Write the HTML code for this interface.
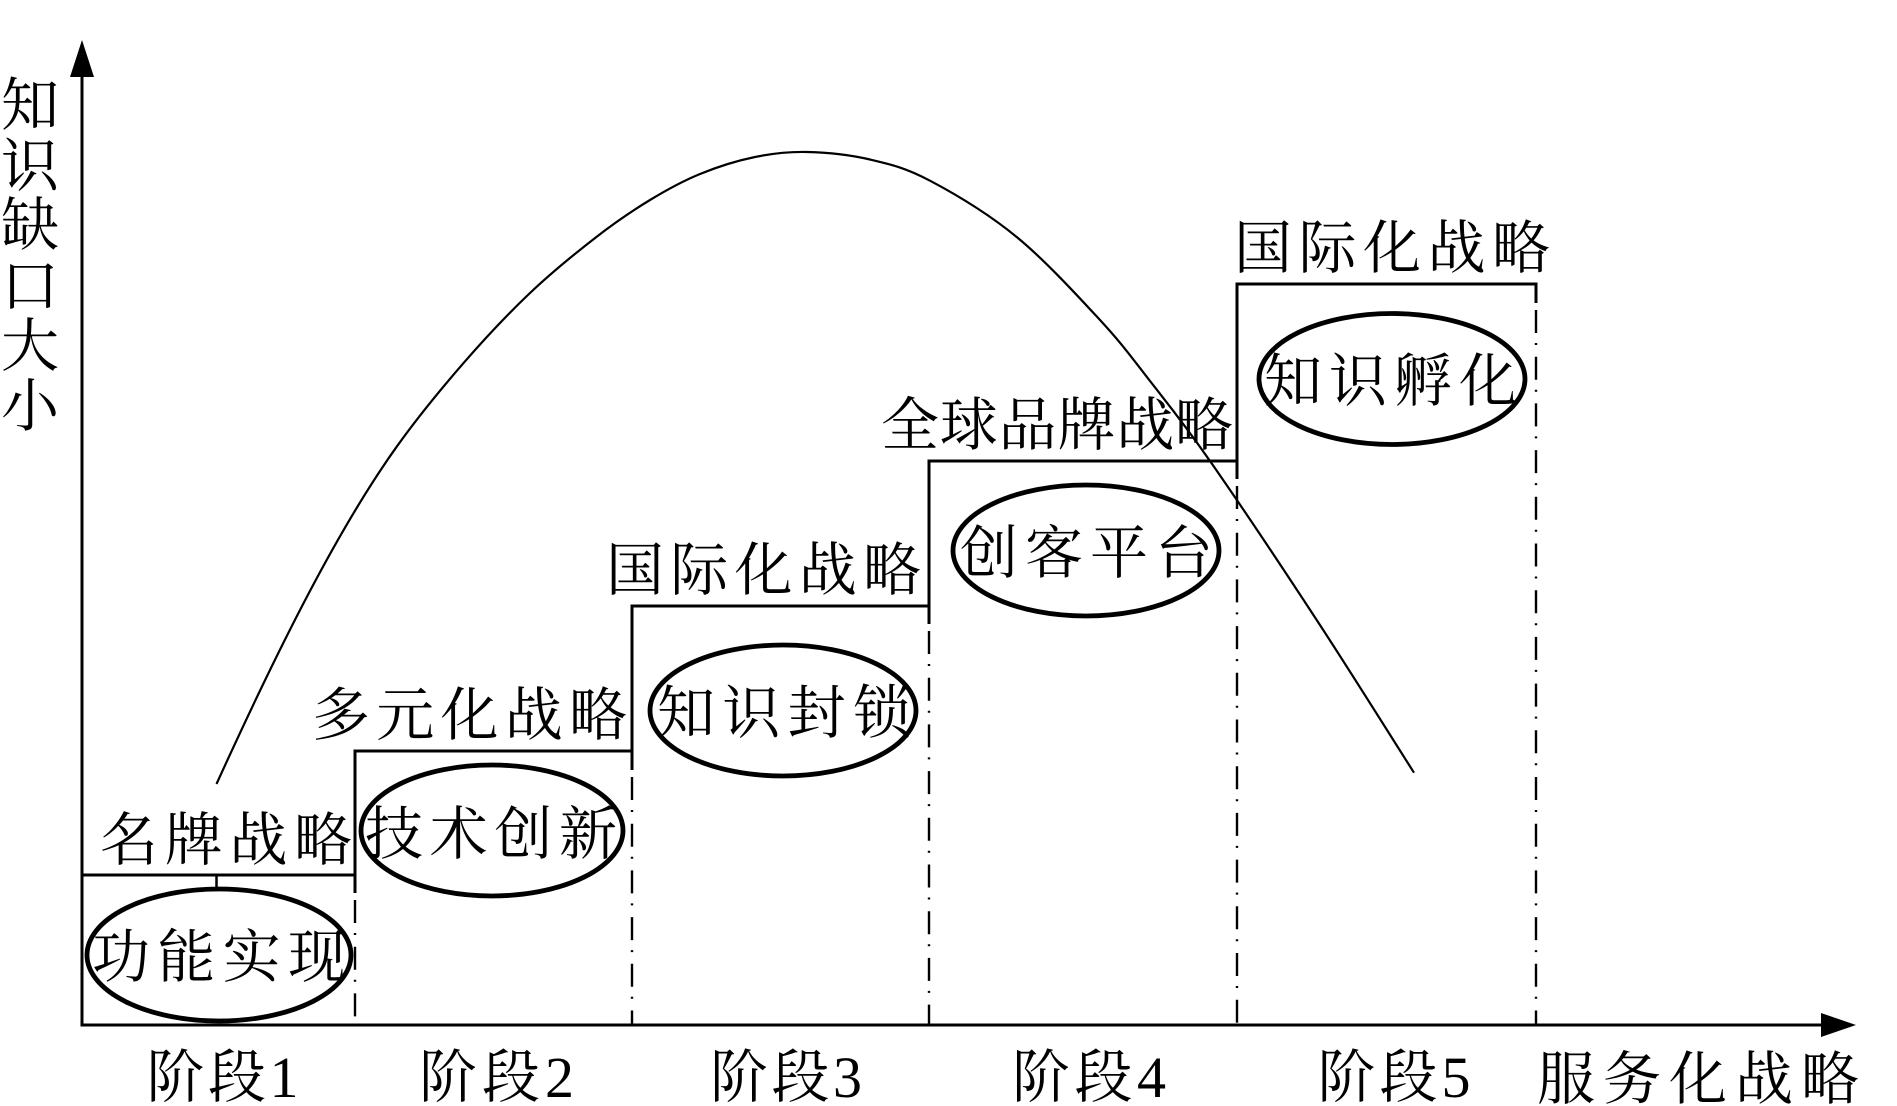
<!DOCTYPE html>
<html>
<head>
<meta charset="utf-8">
<style>
  html, body { margin:0; padding:0; background:#fff; }
  svg { display:block; }
  text { font-family: "Liberation Serif", "Noto Serif CJK SC", "Noto Sans CJK SC", serif; font-size:58px; fill:#000; }
</style>
</head>
<body>
<svg width="1897" height="1106" viewBox="0 0 1897 1106" xmlns="http://www.w3.org/2000/svg">
  <rect x="0" y="0" width="1897" height="1106" fill="#fff"/>

  <!-- axes -->
  <line x1="82" y1="74" x2="82" y2="1026.5" stroke="#000" stroke-width="3"/>
  <polygon points="82,40 70,77 94,77" fill="#000"/>
  <line x1="80.5" y1="1025" x2="1823" y2="1025" stroke="#000" stroke-width="3"/>
  <polygon points="1856,1025 1821,1013 1821,1037" fill="#000"/>

  <!-- stage tops (solid) -->
  <g stroke="#000" stroke-width="3" fill="none">
    <line x1="82" y1="875" x2="356" y2="875"/>
    <line x1="355" y1="751" x2="633" y2="751"/>
    <line x1="632" y1="606" x2="930" y2="606"/>
    <line x1="929" y1="461" x2="1238" y2="461"/>
    <line x1="1237" y1="284" x2="1537.5" y2="284"/>
    <!-- solid verticals -->
    <line x1="355" y1="749.5" x2="355" y2="893"/>
    <line x1="632" y1="604.5" x2="632" y2="770"/>
    <line x1="929" y1="459.5" x2="929" y2="624"/>
    <line x1="1237" y1="282.5" x2="1237" y2="479"/>
    <line x1="1536" y1="282.5" x2="1536" y2="303"/>
    <!-- small tick -->
    <line x1="216.5" y1="875" x2="216.5" y2="888" stroke-width="2.5"/>
  </g>

  <!-- dash-dot verticals -->
  <g stroke="#000" stroke-width="2.4" fill="none" stroke-dasharray="23 10 2 11.7">
    <line x1="355" y1="900" x2="355" y2="1024"/>
    <line x1="632" y1="777" x2="632" y2="1024"/>
    <line x1="929" y1="631" x2="929" y2="1024"/>
    <line x1="1237" y1="486" x2="1237" y2="1024"/>
    <line x1="1536" y1="310" x2="1536" y2="1024"/>
  </g>

  <!-- curve -->
  <path fill="none" stroke="#000" stroke-width="2.2" d="M216.5,784
    C276.5,652 336.7,530.7 396.7,446.7
    C418.92,415.58 441.08,388.92 463.3,363.3
    C485.52,337.68 507.77,314.1 530,293
    C552.23,271.9 576.7,252.2 596.7,236.7
    C616.7,221.2 632.78,210.45 650,200
    C667.22,189.55 682.5,181.17 700,174
    C717.5,166.83 737.17,160.67 755,157
    C772.83,153.33 787.83,151.58 807,152
    C826.17,152.42 849.5,154.72 870,159.5
    C890.5,164.28 905.55,167.78 930,180.7
    C954.45,193.62 988.37,213.78 1016.7,237
    C1045.03,260.22 1077.78,296 1100,320
    C1122.22,344 1131.67,357.5 1150,381
    C1168.33,404.5 1182.22,421.17 1210,461
    C1237.78,500.83 1282.7,568.05 1316.7,620
    C1350.7,671.95 1397.78,747.25 1414,772.7"/>

  <!-- ellipses -->
  <g stroke="#000" stroke-width="4.8" fill="none">
    <ellipse cx="219" cy="955" rx="132" ry="66"/>
    <ellipse cx="492" cy="830.5" rx="131" ry="65.5"/>
    <ellipse cx="783" cy="710.5" rx="133" ry="65.5"/>
    <ellipse cx="1086" cy="550.5" rx="133" ry="65.5"/>
    <ellipse cx="1392" cy="379" rx="133" ry="65.5"/>
  </g>

  <!-- strategy labels -->
  <text x="100" y="860" textLength="252" lengthAdjust="spacing">名牌战略</text>
  <text x="312" y="735" textLength="315" lengthAdjust="spacing">多元化战略</text>
  <text x="606" y="590" textLength="315" lengthAdjust="spacing">国际化战略</text>
  <text x="881" y="445" textLength="352" lengthAdjust="spacing">全球品牌战略</text>
  <text x="1234" y="268" textLength="316" lengthAdjust="spacing">国际化战略</text>

  <!-- ellipse labels -->
  <text x="92" y="977" textLength="254" lengthAdjust="spacing">功能实现</text>
  <text x="365" y="854" textLength="252" lengthAdjust="spacing">技术创新</text>
  <text x="657" y="733" textLength="254" lengthAdjust="spacing">知识封锁</text>
  <text x="960" y="573" textLength="253" lengthAdjust="spacing">创客平台</text>
  <text x="1264" y="401" textLength="253" lengthAdjust="spacing">知识孵化</text>

  <!-- bottom labels -->
  <text x="146.5" y="1097" textLength="152" lengthAdjust="spacing">阶段1</text>
  <text x="419" y="1097" textLength="155" lengthAdjust="spacing">阶段2</text>
  <text x="710" y="1097" textLength="152" lengthAdjust="spacing">阶段3</text>
  <text x="1012" y="1097" textLength="154" lengthAdjust="spacing">阶段4</text>
  <text x="1317.5" y="1097" textLength="153" lengthAdjust="spacing">阶段5</text>
  <text x="1537" y="1099" textLength="322" lengthAdjust="spacing">服务化战略</text>

  <!-- y-axis label (vertical) -->
  <g text-anchor="middle">
    <text x="30" y="125">知</text>
    <text x="30" y="186">识</text>
    <text x="30" y="245">缺</text>
    <text x="30" y="306">口</text>
    <text x="30" y="366">大</text>
    <text x="30" y="426">小</text>
  </g>
</svg>
</body>
</html>
